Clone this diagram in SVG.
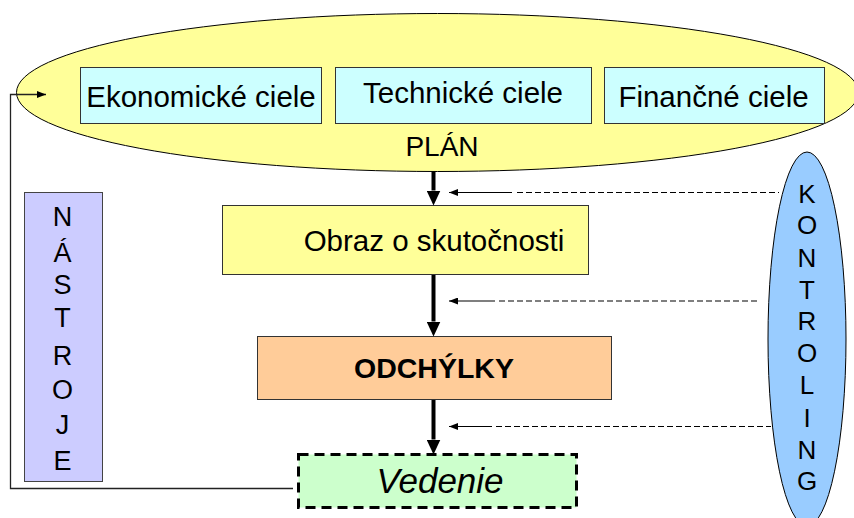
<svg xmlns="http://www.w3.org/2000/svg" width="854" height="518" viewBox="0 0 854 518">
  <defs>
    <marker id="thick" markerUnits="userSpaceOnUse" markerWidth="15" markerHeight="14" viewBox="0 0 15 14" refX="0" refY="7" orient="auto">
      <path d="M0,0 L15,7 L0,14 Z" fill="#000"/>
    </marker>
    <marker id="small" markerUnits="userSpaceOnUse" markerWidth="9" markerHeight="7" viewBox="0 0 9 7" refX="9" refY="3.5" orient="auto-start-reverse">
      <path d="M0,0 L9,3.5 L0,7 Z" fill="#000"/>
    </marker>
  </defs>
  <style>
    .t { font-family: "Liberation Sans", Arial, sans-serif; fill: #000; text-anchor: middle; }
    .goal { fill: #CCFFFF; stroke: #333; stroke-width: 1; }
    .box { stroke: #333; stroke-width: 1; }
    .main { stroke: #000; stroke-width: 4; fill: none; }
    .ctrl { stroke: #000; stroke-width: 1.2; fill: none; }
    .ctrld { stroke: #000; stroke-width: 1.2; fill: none; stroke-dasharray: 6 3; }
  </style>
  <rect width="854" height="518" fill="#fff"/>

  <g id="plan">
    <ellipse cx="437.5" cy="92.5" rx="421" ry="79" fill="#FFFF99" stroke="#000" stroke-width="1"/>
    <text class="t" x="442" y="155.5" font-size="28">PLÁN</text>
  </g>
  <g id="ekonomicke">
    <rect class="goal" x="80.5" y="67.5" width="241" height="56"/>
    <text class="t" x="201" y="106.5" font-size="29.5">Ekonomické ciele</text>
  </g>
  <g id="technicke">
    <rect class="goal" x="335.5" y="67.5" width="256" height="56"/>
    <text class="t" x="463" y="102.5" font-size="29.5">Technické ciele</text>
  </g>
  <g id="financne">
    <rect class="goal" x="604.5" y="67.5" width="220" height="56"/>
    <text class="t" x="713.5" y="106.5" font-size="29.5">Finančné ciele</text>
  </g>

  <g id="obraz">
    <rect class="box" x="222.5" y="205.5" width="366" height="69" fill="#FFFF99"/>
    <text class="t" x="434" y="251" font-size="29.5">Obraz o skutočnosti</text>
  </g>
  <g id="odchylky">
    <rect class="box" x="257.5" y="336.5" width="354" height="63" fill="#FFCC99"/>
    <text class="t" x="434" y="377.5" font-size="28.5" font-weight="bold">ODCHÝLKY</text>
  </g>
  <g id="vedenie">
    <rect x="298.5" y="454.5" width="278" height="53" fill="#CCFFCC" stroke="#000" stroke-width="3" stroke-dasharray="10 6"/>
    <text class="t" x="440" y="493" font-size="35" font-style="italic">Vedenie</text>
  </g>

  <g id="nastroje">
    <rect x="24.5" y="192.5" width="78" height="289" fill="#CCCCFF" stroke="#444" stroke-width="1"/>
    <g class="t" font-size="27">
      <text x="62.5" y="225.5">N</text>
      <text x="62.5" y="261.5">Á</text>
      <text x="62.5" y="294">S</text>
      <text x="62.5" y="327">T</text>
      <text x="62.5" y="365">R</text>
      <text x="62.5" y="398.5">O</text>
      <text x="62.5" y="433.5">J</text>
      <text x="62.5" y="470">E</text>
    </g>
  </g>

  <g id="kontroling">
    <ellipse cx="807" cy="339" rx="39" ry="187" fill="#99CCFF" stroke="#000" stroke-width="1"/>
    <g class="t" font-size="26">
      <text x="807" y="202.5">K</text>
      <text x="807" y="234">O</text>
      <text x="807" y="266.5">N</text>
      <text x="807" y="298.5">T</text>
      <text x="807" y="330">R</text>
      <text x="807" y="362">O</text>
      <text x="807" y="394">L</text>
      <text x="807" y="426.5">I</text>
      <text x="807" y="459">N</text>
      <text x="807" y="490">G</text>
    </g>
  </g>

  <g id="connectors">
    <line class="main" x1="433.5" y1="171" x2="433.5" y2="190.5" marker-end="url(#thick)"/>
    <line class="main" x1="433.5" y1="275" x2="433.5" y2="321.5" marker-end="url(#thick)"/>
    <line class="main" x1="433.5" y1="400" x2="433.5" y2="439.5" marker-end="url(#thick)"/>

    <line class="ctrl" x1="449" y1="192.5" x2="512" y2="192.5" marker-start="url(#small)"/>
    <line class="ctrld" x1="517" y1="192.5" x2="779" y2="192.5"/>
    <line class="ctrl" x1="449" y1="301" x2="495" y2="301" marker-start="url(#small)"/>
    <line class="ctrld" x1="499" y1="301" x2="757" y2="301"/>
    <line class="ctrl" x1="449" y1="426.5" x2="492" y2="426.5" marker-start="url(#small)"/>
    <line class="ctrld" x1="496" y1="426.5" x2="771" y2="426.5"/>

    <polyline points="293,488.5 10.5,488.5 10.5,94.5 46,94.5" fill="none" stroke="#222" stroke-width="1.3" marker-end="url(#small)"/>
  </g>
</svg>
